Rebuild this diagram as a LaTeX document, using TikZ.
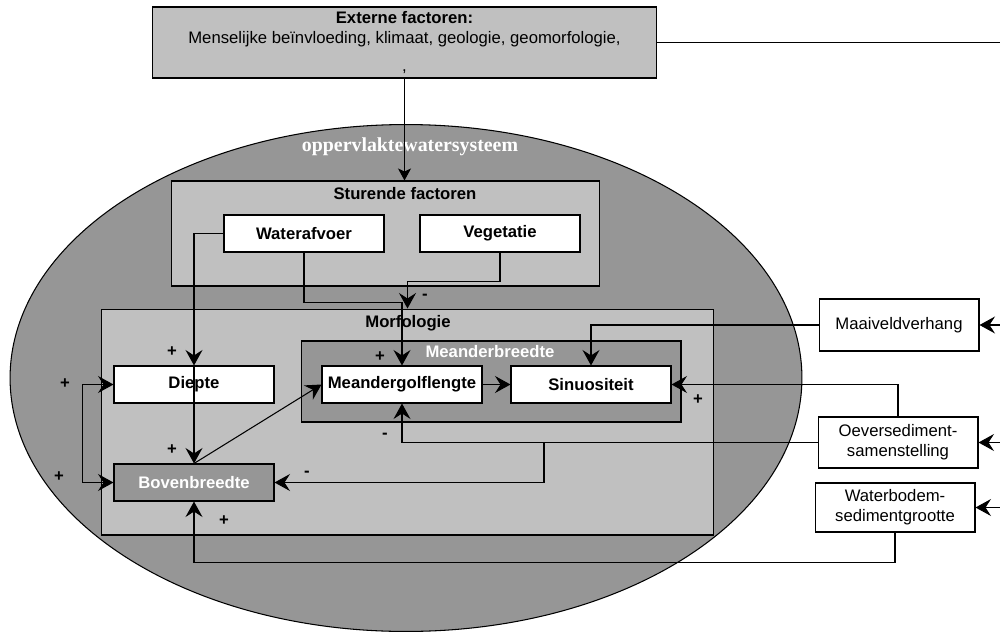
\documentclass[tikz,border=0pt]{standalone}
\usepackage{fontspec}
\setmainfont{Liberation Sans}
\newfontfamily\serifbold{Liberation Serif}
\usepackage{xcolor}
\definecolor{ltgray}{HTML}{C0C0C0}
\definecolor{dkgray}{HTML}{969696}
\usetikzlibrary{arrows.meta, positioning, calc}

\begin{document}
\begin{tikzpicture}[
  x=0.02cm, y=-0.02cm,
  lbl/.style={font=\fontsize{9.5}{11}\selectfont\bfseries},
  factor/.style={rectangle, draw=black, fill=white, line width=0.6pt,
                 minimum width=3.2cm, minimum height=0.74cm, inner sep=1pt,
                 align=center, lbl},
  extbox/.style={rectangle, draw=black, fill=white, line width=0.6pt,
                 minimum width=3.2cm, inner sep=1pt, align=center,
                 font=\fontsize{9.5}{11.5}\selectfont},
  grp/.style={rectangle, draw=black, line width=0.6pt, inner sep=0pt},
  sign/.style={font=\fontsize{9.5}{11}\selectfont\bfseries},
  arr/.style={-{Stealth[length=3.1mm, width=3.4mm, inset=1.1mm]}, line width=0.6pt},
  arrsmall/.style={-{Stealth[length=2.4mm, width=2.6mm, inset=0.6mm]}, line width=0.6pt},
  arrboth/.style={{Stealth[length=3.1mm, width=3.4mm, inset=1.1mm]}-{Stealth[length=3.1mm, width=3.4mm, inset=1.1mm]}, line width=0.6pt}
]
\useasboundingbox (0,0) rectangle (1000,632);

% === Surface water system ===
\draw[fill=dkgray, line width=0.6pt] (406,378) ellipse [x radius=7.92cm, y radius=5.07cm];
\node[font=\serifbold\fontsize{11.3}{13}\selectfont\bfseries, text=white]
  (sys) at (410,147) {oppervlaktewatersysteem};

% === External factors ===
\node[grp, fill=ltgray, minimum width=10.1cm, minimum height=1.42cm,
      align=center, font=\fontsize{9.5}{11.5}\selectfont]
  (ext) at (404.5,42.5)
  {\textbf{Externe factoren:}\\
   Menselijke beïnvloeding, klimaat, geologie, geomorfologie,\\[4pt]
   ,};
\coordinate (redge) at (1000,0);

% === Steering factors ===
\node[grp, fill=ltgray, minimum width=8.58cm, minimum height=2.1cm]
  (stu) at (385.5,233.5) {};
\node[lbl] (stutitle) at (405,194) {Sturende factoren};
\node[factor] (waf) at (304,233.5) {Waterafvoer};
\node[factor] (veg) at (500,233.5) {Vegetatie};

% === Morphology ===
\node[grp, fill=ltgray, minimum width=12.26cm, minimum height=4.52cm]
  (mor) at (407.5,422) {};
\node[lbl] (mortitle) at (408,323) {Morfologie};

\node[grp, fill=dkgray, minimum width=7.6cm, minimum height=1.62cm]
  (mbr) at (491,381.5) {};
\node[lbl, text=white] (mbrtitle) at (490,352) {Meanderbreedte};

\node[factor] (mgl) at (402,384.5) {Meandergolflengte};
\node[factor] (sin) at (591,384.5) {Sinuositeit};
\node[factor] (die) at (194,384.5) {Diepte};
\node[factor, fill=dkgray, text=white] (bov) at (194,482.5) {Bovenbreedte};

% === Outside factors (right) ===
\node[extbox, minimum height=1.04cm] (maa) at (899,325) {Maaiveldverhang};
\node[extbox, minimum height=1.02cm] (oev) at (898,442.5) {Oeversediment-\\samenstelling};
\node[extbox, minimum height=0.98cm] (wbo) at (895,507.5) {Waterbodem-\\sedimentgrootte};
\coordinate (oevtak) at (544,0);

% === Connectors ===
\draw[arrsmall] (ext.south) -- (ext.south |- stu.north);
\draw[line width=1pt] (ext.east) -- (ext.east -| redge);
\draw[arr] (maa.east -| redge) -- (maa.east);
\draw[arr] (oev.east -| redge) -- (oev.east);
\draw[arr] (wbo.east -| redge) -- (wbo.east);

\draw[arr] (waf.west) -| (die.north);
\draw[arr] (die.north) -- (bov.north);
\draw[arr] (waf.south) -- ++(0,50) -| (mgl.north);
\draw[arr] (veg.south) -- ++(0,29) -| (mor.north);
\draw[arrboth] (die.west) -- ++(-31,0) |- (bov.west);
\draw[arr] (bov.north) -- (mgl.west);
\draw[arr] (mgl.east) -- (sin.west);
\draw[arr] (maa.west) -| (sin.north);
\draw[arr] (oev.north) |- (sin.east);
\draw[arr] (oev.west) -| (mgl.south);
\draw[arr] (oevtak |- oev.west) |- (bov.east);
\draw[arr] (wbo.south) -- ++(0,30) -| (bov.south);

% === Signs ===
\node[sign] at (172,352) {+};
\node[sign] at (172,450) {+};
\node[sign] at (65,384) {+};
\node[sign] at (59,477) {+};
\node[sign] at (224,521) {+};
\node[sign] at (380,357) {+};
\node[sign] at (698,400) {+};
\node[sign] at (425,297) {-};
\node[sign] at (385,436) {-};
\node[sign] at (307,474) {-};

\end{tikzpicture}
\end{document}
